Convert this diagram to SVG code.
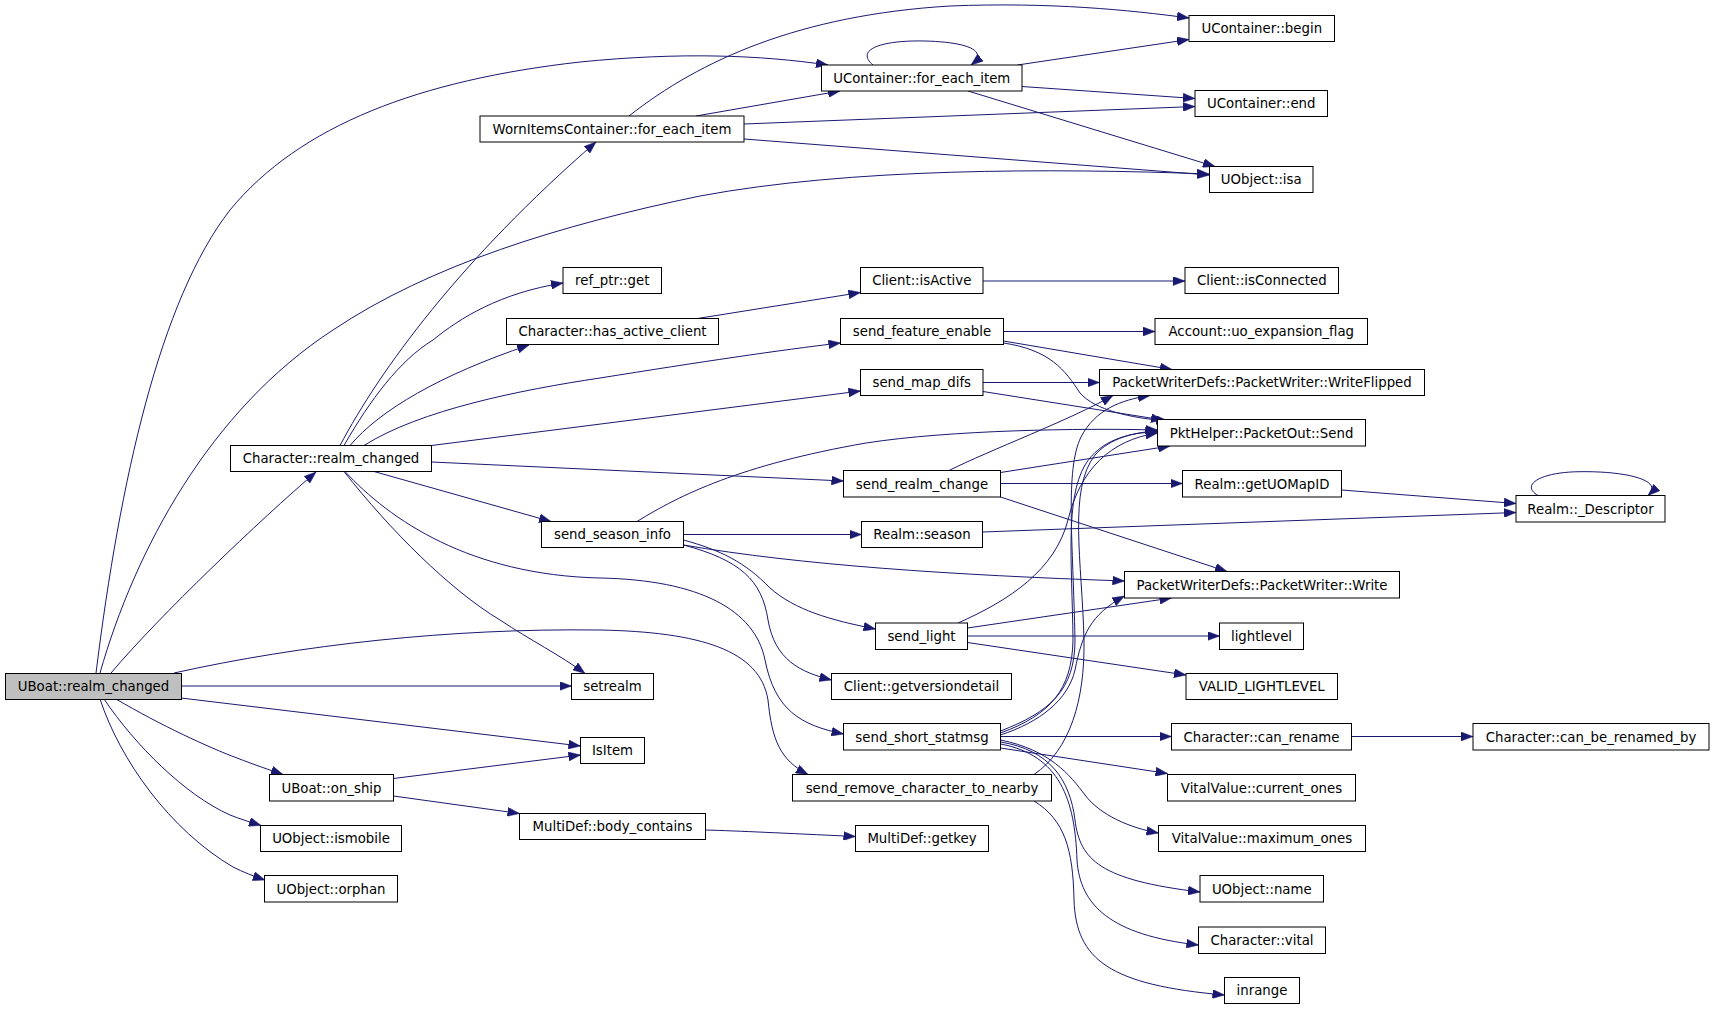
<svg xmlns="http://www.w3.org/2000/svg" width="1715" height="1009" viewBox="0 0 1715 1009">
<style>
.node rect{fill:#fff;stroke:#000;stroke-width:1}
.node text{font-family:"DejaVu Sans","Liberation Sans",sans-serif;font-size:13.3px;text-anchor:middle;fill:#000}
.edges path{fill:none;stroke:#191970;stroke-width:1;marker-end:url(#a)}
</style>
<defs>
<marker id="a" markerWidth="13" markerHeight="9" refX="12" refY="4.5" orient="auto" markerUnits="userSpaceOnUse"><path d="M0,0 L12,4.5 L0,9 z" fill="#191970" stroke="#191970" stroke-width="0.5"/></marker>
</defs>
<rect width="1715" height="1009" fill="#fff"/>
<g class="edges" id="edges">
<path d="M96,673 C120,480 160,300 230,210 C300,125 420,80 580,62 C680,52 760,55 828,65"/>
<path d="M100,673 C135,550 210,410 333,330 C430,265 560,225 700,196 C850,168 1050,168 1209,174"/>
<path d="M111,673 C160,615 260,520 316,472"/>
<path d="M181,686 L571.5,686"/>
<path d="M181,698 L580.5,746"/>
<path d="M116,699 C160,725 210,748 237,758 C255,765 270,770 283,774.5"/>
<path d="M104,699 C135,745 185,795 230,815 C240,819 250,822 261,825.5"/>
<path d="M100,699 C120,760 170,830 233,867 C243,872 253,876 265,880"/>
<path d="M174,673 C300,645 450,628 600,630 C700,632 760,650 768,700 C772,740 780,760 808,774.5"/>
<path d="M340,445.5 C380,370 460,260 596,142"/>
<path d="M344,445.5 C370,400 400,360 433,340 C460,318 500,293 563,283"/>
<path d="M350,445.5 C380,410 440,375 529,345"/>
<path d="M364,445.5 C420,410 520,390 600,378 C700,362 780,350 840.5,343"/>
<path d="M431.5,445.5 L860.5,391"/>
<path d="M431.5,462 L843.5,481"/>
<path d="M374,471.5 L551,521.5"/>
<path d="M344,471.5 C390,530 450,590 500,620 C530,640 560,655 585,673.5"/>
<path d="M345,471.5 C390,520 470,575 600,578 C700,580 755,610 765,660 C775,710 800,725 843.5,734"/>
<path d="M629,116 C700,60 800,15 950,6 C1050,2 1130,10 1189,18"/>
<path d="M696,116 L840,91"/>
<path d="M744,124 L1195,106.5"/>
<path d="M744,139 L1209.5,175"/>
<path d="M873,65 C855,50 880,40 925,41 C965,42 990,50 971,65"/>
<path d="M1017.5,65 L1189,39.5"/>
<path d="M1022,86.5 L1195,98.5"/>
<path d="M968,91 L1215,166.5"/>
<path d="M697.5,318.5 L860.5,292.5"/>
<path d="M983,281 L1185,281"/>
<path d="M1003.5,331.5 L1155,331.5"/>
<path d="M1003.5,341 L1172,369.5"/>
<path d="M1003.5,343 C1050,350 1065,370 1080,393 C1095,410 1130,418 1168,421"/>
<path d="M983,382.5 L1099.5,382.5"/>
<path d="M983,391.5 L1163,420"/>
<path d="M949,470.5 C990,450 1070,420 1113,395.5"/>
<path d="M1000.5,472.5 L1170,446"/>
<path d="M1000.5,483.5 L1182.5,483.5"/>
<path d="M1000.5,497 L1227,571.5"/>
<path d="M1341.5,490 L1516,503.5"/>
<path d="M1538,495.5 C1520,485 1540,472 1580,471.7 C1625,471 1665,480 1648,495.5"/>
<path d="M982.5,532 L1516,512.5"/>
<path d="M637,521.5 C680,495 740,465 866,443 C950,430 1080,428 1157.5,430"/>
<path d="M683.5,534.5 L861.5,534.5"/>
<path d="M683.5,545 C800,565 950,575 1124.5,581"/>
<path d="M683.5,540 C720,550 745,562 770,588 C795,610 830,620 875.5,629"/>
<path d="M683.5,545 C740,560 762,580 768,620 C775,660 800,672 831.5,680"/>
<path d="M958,623 C1010,600 1055,570 1068,520 C1080,470 1110,440 1157.5,433"/>
<path d="M967.5,628 L1171.5,598"/>
<path d="M967.5,636 L1219.5,636"/>
<path d="M967.5,642.5 L1186,675"/>
<path d="M1000.5,733 C1050,715 1072,690 1073,640 C1072,560 1065,500 1085,465 C1100,440 1130,432 1157.5,432"/>
<path d="M1000.5,731 C1050,712 1075,690 1075,640 C1073,540 1065,470 1081,437 C1095,410 1120,400 1150,395.5"/>
<path d="M1000.5,735 C1040,722 1068,700 1075,670 C1082,635 1090,615 1124.5,596"/>
<path d="M1000.5,736.5 L1171.5,736.5"/>
<path d="M1000.5,748 L1167.5,773.5"/>
<path d="M1000.5,740 C1050,750 1070,775 1085,795 C1100,815 1130,828 1158.5,833"/>
<path d="M1000.5,742 C1050,750 1070,780 1075,820 C1080,860 1100,880 1200,892"/>
<path d="M1000.5,744 C1060,755 1075,800 1077,860 C1080,905 1110,935 1198.5,945"/>
<path d="M1034,774.5 C1070,750 1085,700 1084,640 C1082,560 1068,490 1095,455 C1110,438 1135,432 1157.5,431"/>
<path d="M1034,801 C1065,820 1073,850 1074,900 C1076,960 1110,985 1224.5,995"/>
<path d="M1351.5,736.5 L1473,736.5"/>
<path d="M393.5,778.5 L580.5,755"/>
<path d="M393.5,796 L519.5,813.5"/>
<path d="M705.5,830 C740,831 780,833 855.5,836.5"/>
</g>
<g class="node" id="n_uboat"><rect x="5.5" y="673.5" width="176" height="26" style="fill:#bfbfbf"/><text x="93.5" y="691.2">UBoat::realm_changed</text></g>
<g class="node" id="n_char_realm"><rect x="230.5" y="445.5" width="201" height="26"/><text x="331" y="463.2">Character::realm_changed</text></g>
<g class="node" id="n_worn"><rect x="480" y="116" width="264" height="26"/><text x="612" y="133.7">WornItemsContainer::for_each_item</text></g>
<g class="node" id="n_uc_each"><rect x="821.5" y="65" width="200.5" height="26"/><text x="921.75" y="82.7">UContainer::for_each_item</text></g>
<g class="node" id="n_begin"><rect x="1189" y="15.5" width="145.5" height="26"/><text x="1261.75" y="33.2">UContainer::begin</text></g>
<g class="node" id="n_end"><rect x="1195" y="90.5" width="132.5" height="26"/><text x="1261.25" y="108.2">UContainer::end</text></g>
<g class="node" id="n_isa"><rect x="1209.5" y="166.5" width="103.5" height="26"/><text x="1261.25" y="184.2">UObject::isa</text></g>
<g class="node" id="n_refget"><rect x="563" y="267.5" width="98.5" height="26"/><text x="612.25" y="285.2">ref_ptr::get</text></g>
<g class="node" id="n_hac"><rect x="506.5" y="318.5" width="212" height="26"/><text x="612.5" y="336.2">Character::has_active_client</text></g>
<g class="node" id="n_isactive"><rect x="860.5" y="267.5" width="122.5" height="26"/><text x="921.75" y="285.2">Client::isActive</text></g>
<g class="node" id="n_isconn"><rect x="1185" y="267.5" width="153.5" height="26"/><text x="1261.75" y="285.2">Client::isConnected</text></g>
<g class="node" id="n_feat"><rect x="840.5" y="318.5" width="163" height="26"/><text x="922" y="336.2">send_feature_enable</text></g>
<g class="node" id="n_uoexp"><rect x="1155" y="318.5" width="212.5" height="26"/><text x="1261.25" y="336.2">Account::uo_expansion_flag</text></g>
<g class="node" id="n_mapdifs"><rect x="860.5" y="369.5" width="122.5" height="26"/><text x="921.75" y="387.2">send_map_difs</text></g>
<g class="node" id="n_wflip"><rect x="1099.5" y="369.5" width="325" height="26"/><text x="1262" y="387.2">PacketWriterDefs::PacketWriter::WriteFlipped</text></g>
<g class="node" id="n_send"><rect x="1157.5" y="419.5" width="208" height="26.5"/><text x="1261.5" y="437.5">PktHelper::PacketOut::Send</text></g>
<g class="node" id="n_realmchange"><rect x="843.5" y="470.5" width="157" height="26.5"/><text x="922" y="488.5">send_realm_change</text></g>
<g class="node" id="n_getuomap"><rect x="1182.5" y="470.5" width="159" height="26.5"/><text x="1262" y="488.5">Realm::getUOMapID</text></g>
<g class="node" id="n_desc"><rect x="1516" y="495.5" width="149" height="26.5"/><text x="1590.5" y="513.5">Realm::_Descriptor</text></g>
<g class="node" id="n_seasoninfo"><rect x="541.5" y="521.5" width="142" height="26"/><text x="612.5" y="539.2">send_season_info</text></g>
<g class="node" id="n_season"><rect x="861.5" y="521.5" width="121" height="26"/><text x="922" y="539.2">Realm::season</text></g>
<g class="node" id="n_write"><rect x="1124.5" y="571.5" width="275" height="26.5"/><text x="1262" y="589.5">PacketWriterDefs::PacketWriter::Write</text></g>
<g class="node" id="n_light"><rect x="875.5" y="623" width="92" height="26.5"/><text x="921.5" y="641">send_light</text></g>
<g class="node" id="n_lightlevel"><rect x="1219.5" y="623" width="84" height="26.5"/><text x="1261.5" y="641">lightlevel</text></g>
<g class="node" id="n_setrealm"><rect x="571.5" y="673.5" width="82" height="26"/><text x="612.5" y="691.2">setrealm</text></g>
<g class="node" id="n_getver"><rect x="831.5" y="673.5" width="180" height="26"/><text x="921.5" y="691.2">Client::getversiondetail</text></g>
<g class="node" id="n_valid"><rect x="1186" y="673.5" width="151.5" height="26"/><text x="1261.75" y="691.2">VALID_LIGHTLEVEL</text></g>
<g class="node" id="n_statmsg"><rect x="843.5" y="723.5" width="157" height="26.5"/><text x="922" y="741.5">send_short_statmsg</text></g>
<g class="node" id="n_canrename"><rect x="1171.5" y="723.5" width="180" height="26.5"/><text x="1261.5" y="741.5">Character::can_rename</text></g>
<g class="node" id="n_canbe"><rect x="1473" y="723.5" width="236" height="26.5"/><text x="1591" y="741.5">Character::can_be_renamed_by</text></g>
<g class="node" id="n_isitem"><rect x="580.5" y="737.5" width="64" height="26"/><text x="612.5" y="755.2">IsItem</text></g>
<g class="node" id="n_onship"><rect x="269.5" y="774.5" width="124" height="26.5"/><text x="331.5" y="792.5">UBoat::on_ship</text></g>
<g class="node" id="n_remove"><rect x="792.5" y="774.5" width="259" height="26.5"/><text x="922" y="792.5">send_remove_character_to_nearby</text></g>
<g class="node" id="n_curones"><rect x="1167.5" y="774.5" width="188" height="26.5"/><text x="1261.5" y="792.5">VitalValue::current_ones</text></g>
<g class="node" id="n_body"><rect x="519.5" y="813.5" width="186" height="26"/><text x="612.5" y="831.2">MultiDef::body_contains</text></g>
<g class="node" id="n_ismobile"><rect x="260.5" y="825.5" width="141" height="26"/><text x="331" y="843.2">UObject::ismobile</text></g>
<g class="node" id="n_getkey"><rect x="855.5" y="825.5" width="133" height="26"/><text x="922" y="843.2">MultiDef::getkey</text></g>
<g class="node" id="n_maxones"><rect x="1158.5" y="825.5" width="207" height="26"/><text x="1262" y="843.2">VitalValue::maximum_ones</text></g>
<g class="node" id="n_orphan"><rect x="264.5" y="875.5" width="133" height="26.5"/><text x="331" y="893.5">UObject::orphan</text></g>
<g class="node" id="n_name"><rect x="1200" y="875.5" width="123.5" height="26.5"/><text x="1261.75" y="893.5">UObject::name</text></g>
<g class="node" id="n_vital"><rect x="1198.5" y="927" width="127" height="26.5"/><text x="1262" y="945">Character::vital</text></g>
<g class="node" id="n_inrange"><rect x="1224.5" y="977.5" width="75" height="26"/><text x="1262" y="995.2">inrange</text></g>
</svg>
